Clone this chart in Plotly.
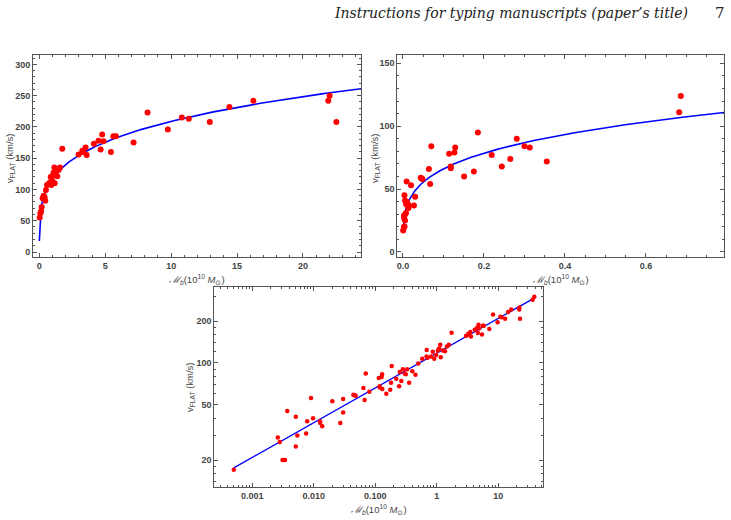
import numpy as np
import plotly.graph_objects as go

# ---------------- data ----------------
# higher-mass sample (top-left panel), baryonic mass in 1e10 Msun, v_flat in km/s
M_HIGH = [0.03, 0.08, 0.13, 0.18, 0.25, 0.33, 0.40, 0.45, 0.50, 0.58, 0.71, 0.81, 0.86,
          0.91, 0.98, 1.04, 1.09, 1.14, 1.16, 1.26, 1.36, 1.46, 1.57, 1.74, 2.98, 3.26,
          3.33, 3.51, 3.59, 4.14, 4.49, 4.65, 4.77, 4.87, 5.43, 5.61, 5.81, 7.15, 8.21,
          9.75, 10.81, 11.34, 12.93, 14.42, 16.24, 21.92, 22.02, 22.53, 36.2, 38.5]
V_HIGH = [55, 62, 65, 72, 86, 90, 87, 82, 99, 107, 109, 111, 120,
          107, 114, 123, 127, 135, 110, 123, 121, 131, 135, 165, 156, 162,
          160, 167, 155, 173, 178, 164, 188, 177, 160, 185, 185, 175, 223,
          196, 215, 213, 208, 232, 242, 242, 250, 208, 285, 299]

# lower-mass sample (top-right panel)
M_LOW = [0.0005, 0.0026, 0.0028, 0.0031, 0.0032, 0.0034, 0.0037, 0.0051, 0.0051, 0.0054,
         0.0075, 0.0078, 0.0090, 0.0097, 0.0126, 0.0127, 0.0137, 0.020, 0.027, 0.030,
         0.044, 0.046, 0.048, 0.064, 0.067, 0.070, 0.114, 0.118, 0.118, 0.127, 0.129,
         0.151, 0.175, 0.185, 0.219, 0.244, 0.265, 0.281, 0.300, 0.313, 0.355, 0.682, 0.686]
V_LOW = [17, 29, 27, 20, 20, 20, 45, 41, 25, 30,
         31, 38, 56, 40, 38, 37, 35, 53, 37, 44,
         59, 58.5, 58, 66, 54, 84, 78, 68, 66.5, 79, 83,
         60, 64, 95, 77, 68, 74, 90, 84, 83, 72, 111, 124]

# power-law fit  v = A * M^p
FIT_A = 117.5
FIT_P = 0.25

X1_TICKS = [0, 5, 10, 15, 20]
Y1_TICKS = [0, 50, 100, 150, 200, 250, 300]
X2_TICKS = [0.0, 0.2, 0.4, 0.6]
X2_LABELS = ["0.0", "0.2", "0.4", "0.6"]
Y2_TICKS = [0, 50, 100, 150]
X3_TICKS = [0.001, 0.01, 0.1, 1, 10]
X3_LABELS = ["0.001", "0.010", "0.100", "1", "10"]
Y3_TICKS = [20, 50, 100, 200]
Y3_MINOR = [14, 16, 18, 30, 40, 60, 70, 80, 90, 120, 140, 160, 180, 300]

HEADER = "Instructions for typing manuscripts (paper\u2019s title)"
PAGE = "7"
YTITLE = "v<sub>FLAT</sub> (km/s)"
XTITLE = "<i>\u2133</i><sub><i>b</i></sub>(10<sup>10</sup> <i>M</i><sub>\u2299</sub>)"

# ---------------- layout helpers ----------------
W, H = 731, 520


def dx(a, b):
    return [a / W, b / W]


def dy(top, bottom):
    return [1 - bottom / H, 1 - top / H]


def fit_curve(lo, hi):
    m = np.geomspace(lo, hi, 500)
    return m, FIT_A * m ** FIT_P


RED = "#ff0000"
BLUE = "#0000ff"
FRAME = "#555555"
TXT = "#444444"
tickfont = dict(family="Liberation Sans, Arial, sans-serif", size=9, color=TXT, weight="bold")

fig = go.Figure()

m_all = M_LOW + M_HIGH
v_all = V_LOW + V_HIGH

# panel 1
cx, cy = fit_curve(min(m_all), 24.4)
fig.add_trace(go.Scatter(x=cx, y=cy, mode="lines", line=dict(color=BLUE, width=1.6),
                         xaxis="x", yaxis="y", showlegend=False, hoverinfo="skip"))
fig.add_trace(go.Scatter(x=M_HIGH, y=V_HIGH, mode="markers", marker=dict(color=RED, size=6),
                         xaxis="x", yaxis="y", showlegend=False, cliponaxis=True))
# panel 2
cx, cy = fit_curve(min(m_all), 0.8)
fig.add_trace(go.Scatter(x=cx, y=cy, mode="lines", line=dict(color=BLUE, width=1.6),
                         xaxis="x2", yaxis="y2", showlegend=False, hoverinfo="skip"))
fig.add_trace(go.Scatter(x=M_LOW, y=V_LOW, mode="markers", marker=dict(color=RED, size=6),
                         xaxis="x2", yaxis="y2", showlegend=False))
# panel 3
cx, cy = fit_curve(min(m_all), max(m_all))
fig.add_trace(go.Scatter(x=cx, y=cy, mode="lines", line=dict(color=BLUE, width=1.4),
                         xaxis="x3", yaxis="y3", showlegend=False, hoverinfo="skip"))
fig.add_trace(go.Scatter(x=m_all, y=v_all, mode="markers", marker=dict(color=RED, size=4.5),
                         xaxis="x3", yaxis="y3", showlegend=False))


def ax(domain, rng, tickvals, ticktext=None, minor=None, typ="linear", anchor=None):
    d = dict(domain=domain, range=rng, type=typ, tickvals=tickvals,
             ticks="inside", ticklen=4, tickwidth=1, tickcolor=FRAME,
             showline=True, linecolor=FRAME, linewidth=1, mirror="ticks",
             showgrid=False, zeroline=False, tickfont=tickfont, anchor=anchor,
             ticklabelstandoff=0)
    if ticktext is not None:
        d["ticktext"] = ticktext
    if minor is not None:
        d["minor"] = dict(ticks="inside", ticklen=2, tickcolor=FRAME, showgrid=False, **minor)
    return d


x3_minor = [k * 10.0 ** e for e in range(-4, 2) for k in range(2, 10)]

fig.update_layout(
    width=W, height=H, margin=dict(l=0, r=0, t=0, b=0),
    paper_bgcolor="white", plot_bgcolor="white",
    xaxis=ax(dx(33, 361), [-0.48, 24.4], X1_TICKS, minor=dict(dtick=1), anchor="y"),
    yaxis=ax(dy(55, 257), [-8, 315], Y1_TICKS, minor=dict(dtick=10), anchor="x"),
    xaxis2=ax(dx(397.3, 724), [-0.014, 0.7926], X2_TICKS, X2_LABELS, minor=dict(dtick=0.05), anchor="y2"),
    yaxis2=ax(dy(55, 257), [-4, 156.6], Y2_TICKS, minor=dict(dtick=10), anchor="x2"),
    xaxis3=ax(dx(214.3, 543.3), [-3.618, 1.732], X3_TICKS, X3_LABELS,
              minor=dict(tickvals=x3_minor), typ="log", anchor="y3"),
    yaxis3=ax(dy(286.7, 487.3), [1.105, 2.548], Y3_TICKS, [str(t) for t in Y3_TICKS],
              minor=dict(tickvals=Y3_MINOR), typ="log", anchor="x3"),
)

ann_font = dict(family="Liberation Sans, Arial, sans-serif", size=9.5, color=TXT)
anns = []
for xc, yc in [(10, 158), (375, 158), (190, 387)]:
    anns.append(dict(x=xc / W, y=1 - yc / H, xref="paper", yref="paper", text=YTITLE,
                     textangle=-90, showarrow=False, font=ann_font,
                     xanchor="center", yanchor="middle"))
for xc, yc in [(197, 279), (561, 279), (379, 509)]:
    anns.append(dict(x=xc / W, y=1 - yc / H, xref="paper", yref="paper", text=XTITLE,
                     showarrow=False, font=ann_font, xanchor="center", yanchor="middle"))
anns.append(dict(x=690 / W, y=1 - 13 / H, xref="paper", yref="paper", text="<i>" + HEADER + "</i>",
                 showarrow=False, xanchor="right", yanchor="middle",
                 font=dict(family="DejaVu Serif, serif", size=14, color="#222222")))
anns.append(dict(x=720 / W, y=1 - 13 / H, xref="paper", yref="paper", text=PAGE,
                 showarrow=False, xanchor="center", yanchor="middle",
                 font=dict(family="DejaVu Serif, serif", size=15, color="#222222")))
fig.update_layout(annotations=anns)

fig.write_html("out.html")
